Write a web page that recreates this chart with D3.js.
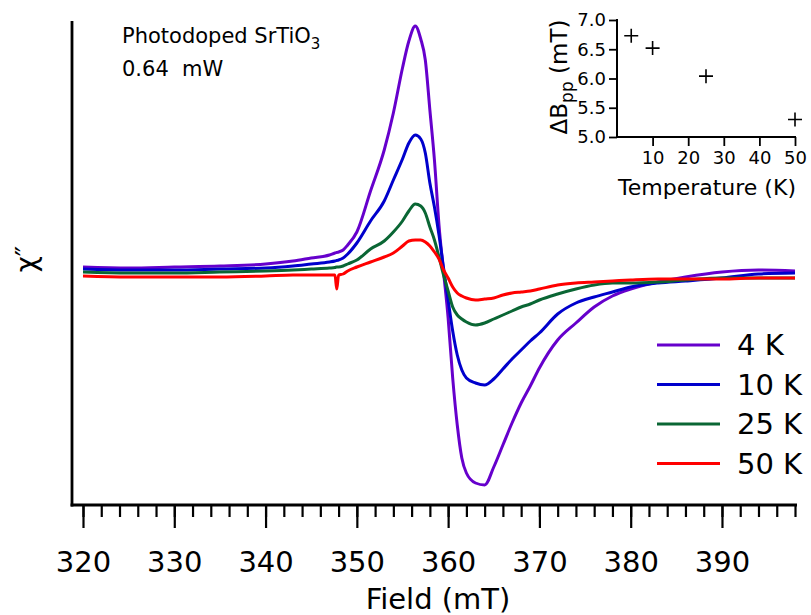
<!DOCTYPE html>
<html>
<head>
<meta charset="utf-8">
<script src="https://cdn.jsdelivr.net/npm/d3@7"></script>
<style>
  body { margin: 0; background: #fff; }
  svg { display: block; font-family: "DejaVu Sans", sans-serif; }
</style>
</head>
<body>
<svg id="chart" width="811" height="615"></svg>
<script>
// field values (mT), shared by all traces
const fields = [320, 325, 330, 335, 340, 343, 345, 347, 347.6, 347.8, 348, 348.5, 349, 350, 351.5, 353, 354, 355, 355.7, 356.4, 357,
  357.5, 358, 358.5, 359, 359.5, 360, 360.5, 361, 361.5, 362, 363, 364, 365, 366, 367, 368, 369, 370, 372, 374,
  376, 378, 380, 383, 386, 390, 394, 398];

// chi'' signal, arbitrary units
const chi4K = [3, 2, 3, 4, 6, 9, 12, 15, 17, 17.5, 18, 20, 25, 38, 79, 120, 157, 202, 229, 244, 231,
  210, 160, 110, 45, -2, -48, -108, -155, -188, -203, -213, -215, -197, -175, -153, -133, -116, -98, -70, -53,
  -37, -26, -19, -12, -7, -2, 0, -1];
const chi10K = [1, 0, 0, 1, 2, 4, 6, 8, 9, 9.5, 10, 12, 16, 27, 49, 69, 90, 111, 127, 135, 131,
  117, 87, 63, 35, 2, -30, -61, -85, -100, -108, -113, -115, -109, -99, -89, -80, -71, -63, -44, -33,
  -27, -22, -17, -13, -11, -8, -4, -3];
const chi25K = [-2, -3, -3, -2, -1, 0, 1, 2, 2.5, 3, 3, 4, 6, 10, 21, 29, 38, 49, 59, 66, 64,
  57, 43, 30, 13, -5, -21, -37, -45, -49, -52, -55, -53, -49, -45, -41, -37, -34, -30, -24, -19,
  -15, -13, -13, -12, -10, -8, -8, -8];
const chi50K = [-6, -7, -7, -7, -6, -5, -5, -5, -5, -19, -5, -4, -1, 3, 8, 13, 17, 24, 29, 30, 30,
  28, 24, 18, 11, 0, -8, -17, -23, -26, -28, -30, -29, -28, -25, -23, -22, -21, -19, -15, -13,
  -12, -11, -10, -9, -9, -9, -8, -8];

const seriesLabels = ["4 K", "10 K", "25 K", "50 K"];
const seriesColors = ["#6600cc", "#0000cc", "#0a6634", "#ff0000"];
const seriesValues = [chi4K, chi10K, chi25K, chi50K];

// inset: linewidth vs temperature
const insetTemps = [4, 10, 25, 50];
const insetWidths = [6.73, 6.52, 6.04, 5.30];

const majorTicks = d3.range(320, 391, 10);
const minorTicks = d3.range(320, 399, 2);

const svg = d3.select("#chart");

const x = d3.scaleLinear().domain([320, 398]).range([83, 795]);
const y = d3.scaleLinear().domain([-235, 249]).range([505, 21]);

// axes lines
const axisX0 = 72;
svg.append("line")
  .attr("x1", axisX0).attr("x2", axisX0)
  .attr("y1", y.range()[1]).attr("y2", y.range()[0] + 1.5)
  .attr("stroke", "#000").attr("stroke-width", 2.8);
svg.append("line")
  .attr("x1", axisX0 - 1.4).attr("x2", x(398) + 2)
  .attr("y1", y.range()[0]).attr("y2", y.range()[0])
  .attr("stroke", "#000").attr("stroke-width", 2.8);

const minorAxis = svg.append("g")
  .attr("transform", `translate(0,${y.range()[0]})`)
  .call(d3.axisBottom(x).tickValues(minorTicks).tickSize(12).tickFormat(""));
minorAxis.select(".domain").remove();

const majorAxis = svg.append("g")
  .attr("transform", `translate(0,${y.range()[0]})`)
  .call(d3.axisBottom(x).tickValues(majorTicks).tickSize(23).tickPadding(23).tickFormat(d3.format("d")));
majorAxis.select(".domain").remove();

svg.selectAll(".tick line").attr("stroke", "#000").attr("stroke-width", 2.2);
majorAxis.selectAll("text")
  .attr("fill", "#000")
  .style("font-size", "29px")
  .style("font-family", "DejaVu Sans, sans-serif");

svg.append("text")
  .attr("x", 438).attr("y", 609)
  .attr("text-anchor", "middle")
  .style("font-size", "29px")
  .text("Field (mT)");

svg.append("text")
  .attr("transform", "translate(36,259) rotate(-90)")
  .attr("text-anchor", "middle")
  .style("font-size", "28px")
  .text("\u03c7\u2033");

// traces
const line = d3.line()
  .x((d, i) => x(fields[i]))
  .y(d => y(d))
  .curve(d3.curveMonotoneX);

svg.append("g").selectAll("path")
  .data(seriesValues)
  .enter()
  .append("path")
  .attr("d", d => line(d))
  .attr("fill", "none")
  .attr("stroke", (d, i) => seriesColors[i])
  .attr("stroke-width", 3)
  .attr("stroke-linejoin", "round");

// annotation
const note = svg.append("text")
  .attr("x", 122).attr("y", 43)
  .style("font-size", "21px");
note.append("tspan").text("Photodoped SrTiO");
note.append("tspan").attr("dy", 6).style("font-size", "15px").text("3");

svg.append("text")
  .attr("x", 122).attr("y", 76)
  .style("font-size", "21px")
  .style("white-space", "pre")
  .text("0.64  mW");

// legend
const legend = svg.append("g").selectAll("g")
  .data(seriesLabels)
  .enter()
  .append("g")
  .attr("transform", (d, i) => `translate(657,${345 + i * 39.5})`);
legend.append("line")
  .attr("x1", 0).attr("x2", 63)
  .attr("stroke", (d, i) => seriesColors[i])
  .attr("stroke-width", 3);
legend.append("text")
  .attr("x", 80).attr("dy", "0.36em")
  .style("font-size", "29px")
  .text(d => d);

// inset
const ix = d3.scaleLinear().domain([0, 50]).range([617, 795]);
const iy = d3.scaleLinear().domain([5, 7]).range([137, 20]);

svg.append("line")
  .attr("x1", ix(0)).attr("x2", ix(0))
  .attr("y1", iy(7) - 1).attr("y2", iy(5) + 1)
  .attr("stroke", "#000").attr("stroke-width", 2);
svg.append("line")
  .attr("x1", ix(0) - 1).attr("x2", ix(50) + 1)
  .attr("y1", iy(5)).attr("y2", iy(5))
  .attr("stroke", "#000").attr("stroke-width", 2);

const insetX = svg.append("g")
  .attr("transform", `translate(0,${iy(5)})`)
  .call(d3.axisBottom(ix).tickValues([10, 20, 30, 40, 50]).tickSize(9).tickPadding(5).tickFormat(d3.format("d")));
insetX.select(".domain").remove();

const insetY = svg.append("g")
  .attr("transform", `translate(${ix(0)},0)`)
  .call(d3.axisLeft(iy).tickValues([5, 5.5, 6, 6.5, 7]).tickSize(8).tickPadding(3).tickFormat(d3.format(".1f")));
insetY.select(".domain").remove();

[insetX, insetY].forEach(g => {
  g.selectAll(".tick line").attr("stroke", "#000").attr("stroke-width", 1.8);
  g.selectAll("text")
    .attr("fill", "#000")
    .style("font-size", "18px")
    .style("font-family", "DejaVu Sans, sans-serif");
});

svg.append("text")
  .attr("x", 707).attr("y", 195)
  .attr("text-anchor", "middle")
  .style("font-size", "22px")
  .text("Temperature (K)");

const ylab = svg.append("text")
  .attr("transform", "translate(567,77) rotate(-90)")
  .attr("text-anchor", "middle")
  .style("font-size", "23px");
ylab.append("tspan").text("\u0394B");
ylab.append("tspan").attr("dy", 6).style("font-size", "17px").text("pp");
ylab.append("tspan").attr("dy", -6).text(" (mT)");

svg.append("g").selectAll("path")
  .data(insetTemps)
  .enter()
  .append("path")
  .attr("transform", (d, i) => `translate(${ix(d)},${iy(insetWidths[i])})`)
  .attr("d", "M-7,0H7M0,-7V7")
  .attr("stroke", "#000")
  .attr("stroke-width", 1.6)
  .attr("fill", "none");
</script>
</body>
</html>
